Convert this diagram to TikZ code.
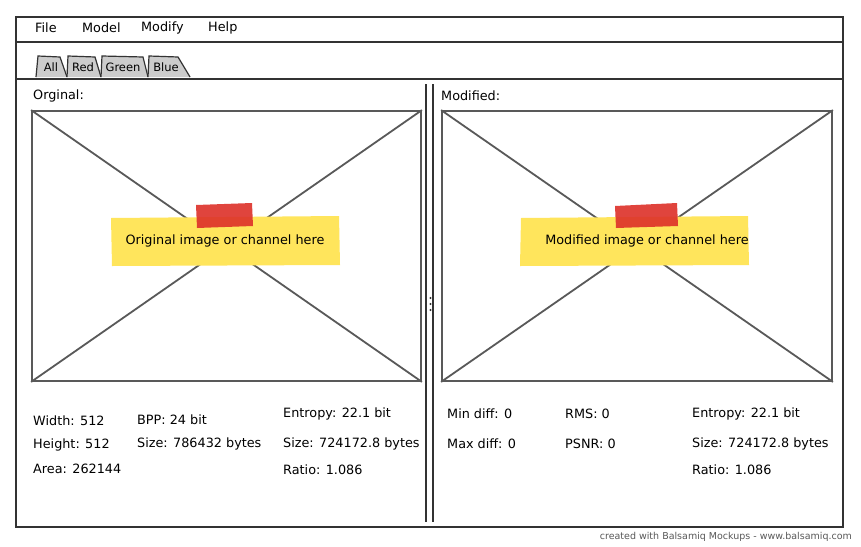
\documentclass[tikz,border=0pt]{standalone}
\usepackage{fontspec}
\setmainfont{DejaVu Sans}
\definecolor{notey}{HTML}{FFE55C}
\definecolor{tape}{HTML}{DD3029}

\begin{document}
\begin{tikzpicture}[x=1pt,y=-1pt]
\tikzstyle{every node}+=[inner sep=0pt]
\tikzstyle{frame}=[draw=black!80, line width=1.4pt]
\tikzstyle{ph}=[draw=black!65, line width=1.8pt]
\tikzstyle{tab}=[draw=black!80, fill=black!20, line width=1.2pt]
\tikzstyle{lbl}=[anchor=west, font=\fontsize{12.8}{14}\selectfont]
\tikzstyle{tabl}=[anchor=center, font=\fontsize{11.5}{13}\selectfont]
\useasboundingbox (0,0) rectangle (861,546);
\fill [white] (0,0) rectangle (861,546);
\draw [frame] (16,17) rectangle (843,42);
\draw [frame] (16,42) -- (16,79) (843,42) -- (843,79);
\draw [frame] (16,79) rectangle (843,527);
\draw [frame] (426,84) -- (426,522) (433,84) -- (433,522);
\foreach \y in {298,304,310}
  \fill [black!80] (430.5,\y) circle (1.2);
\node [lbl] (file) at (35,28) {File};
\node [lbl] (model) at (82,28) {Model};
\node [lbl] (modify) at (141,28) {Modify};
\node [lbl] (help) at (208,28) {Help};
\draw [tab] (36,77) -- (38,56) -- (60,57) -- (67,77);
\draw [tab] (67,77) -- (68,56) -- (95,57) -- (101,77);
\draw [tab] (101,77) -- (102,56) -- (143,57) -- (148,77);
\draw [tab] (148,77) -- (149,56) -- (178,57) -- (190,77);
\node [tabl] (tall) at (51,67) {All};
\node [tabl] (tred) at (83,67) {Red};
\node [tabl] (tgreen) at (123,67) {Green};
\node [tabl] (tblue) at (166,67) {Blue};
\node [lbl] (orig) at (33,96) {Orginal:};
\node [lbl] (modi) at (441,96) {Modified:};
\node [ph, minimum width=389, minimum height=270] (imgl) at (226.5,246) {};
\draw [ph] (imgl.north west) -- (imgl.south east) (imgl.north east) -- (imgl.south west);
\node [ph, minimum width=390, minimum height=270] (imgr) at (637,246) {};
\draw [ph] (imgr.north west) -- (imgr.south east) (imgr.north east) -- (imgr.south west);
\fill [notey] (111,218) -- (339,216) -- (340,265) -- (112,266) -- cycle;
\fill [tape, opacity=0.9] (196,205) -- (252,203) -- (253,226) -- (197,228) -- cycle;
\node [lbl, anchor=center] (notel) at (225,241) {Original image or channel here};
\fill [notey] (521,218) -- (748,216) -- (749,265) -- (520,266) -- cycle;
\fill [tape, opacity=0.9] (615,206) -- (677,203) -- (678,226) -- (616,228) -- cycle;
\node [lbl, anchor=center] (noter) at (647,241) {Modified image or channel here};
\node [lbl] (wid) at (33,421) {Width: 512};
\node [lbl] (hei) at (33,445) {Height: 512};
\node [lbl] (area) at (33,469) {Area: 262144};
\node [lbl] (bpp) at (137,420) {BPP: 24 bit};
\node [lbl] (sizel) at (137,444) {Size: 786432 bytes};
\node [lbl] (entl) at (283,414) {Entropy: 22.1 bit};
\node [lbl] (csizel) at (283,444) {Size: 724172.8 bytes};
\node [lbl] (ratl) at (283,470) {Ratio: 1.086};
\node [lbl] (mind) at (447,414) {Min diff: 0};
\node [lbl] (maxd) at (447,444) {Max diff: 0};
\node [lbl] (rms) at (565,414) {RMS: 0};
\node [lbl] (psnr) at (565,444) {PSNR: 0};
\node [lbl] (entr) at (692,414) {Entropy: 22.1 bit};
\node [lbl] (csizer) at (692,444) {Size: 724172.8 bytes};
\node [lbl] (ratr) at (692,470) {Ratio: 1.086};
\node [anchor=east, font=\fontsize{9.5}{11}\selectfont, text=black!65] (credit) at (852,537) {created with Balsamiq Mockups - www.balsamiq.com};
\end{tikzpicture}
\end{document}
